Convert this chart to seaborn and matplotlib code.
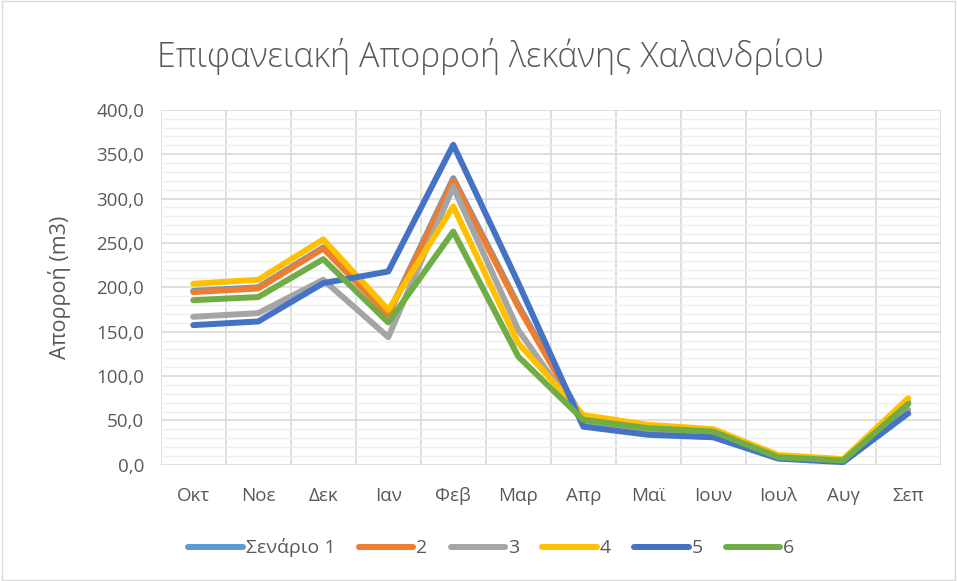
import pandas as pd
import matplotlib.pyplot as plt
import seaborn as sns
from matplotlib.ticker import MultipleLocator, FixedLocator, FuncFormatter
from matplotlib.patches import Rectangle

months = ['Οκτ', 'Νοε', 'Δεκ', 'Ιαν', 'Φεβ', 'Μαρ', 'Απρ', 'Μαϊ', 'Ιουν', 'Ιουλ', 'Αυγ', 'Σεπ']
scenarios = ['Σενάριο 1', '2', '3', '4', '5', '6']

s1 = [196.0, 200.0, 245.0, 170.0, 323.0, 180.0, 51.0, 42.0, 38.0, 10.0, 5.0, 71.0]
s2 = [194.6, 198.7, 243.7, 169.0, 321.0, 178.0, 50.0, 41.0, 37.5, 9.5, 5.0, 70.0]
s3 = [166.8, 170.9, 208.5, 143.9, 313.0, 152.0, 48.0, 38.0, 35.0, 8.5, 4.5, 62.0]
s4 = [204.0, 208.5, 254.0, 174.6, 291.0, 137.0, 56.0, 45.0, 40.2, 11.0, 6.4, 75.0]
s5 = [157.4, 161.5, 204.7, 217.8, 360.6, 205.0, 43.0, 33.8, 31.0, 7.0, 3.0, 58.0]
s6 = [185.5, 189.0, 231.7, 160.4, 262.9, 122.0, 50.7, 41.3, 37.5, 8.6, 4.8, 68.7]

colors = ['#5B9BD5', '#ED7D31', '#A5A5A5', '#FFC000', '#4472C4', '#70AD47']

rows = []
for name, vals in zip(scenarios, [s1, s2, s3, s4, s5, s6]):
    for m, v in zip(months, vals):
        rows.append({'month': m, 'scenario': name, 'value': v})
df = pd.DataFrame(rows)

sns.set_style("white")
plt.rcParams['font.family'] = ['Open Sans', 'DejaVu Sans']

fig = plt.figure(figsize=(9.57, 5.81), dpi=100)
ax = fig.add_axes([0.168, 0.200, 0.815, 0.611])

sns.lineplot(data=df, x='month', y='value', hue='scenario', hue_order=scenarios,
             palette=colors, linewidth=4.3, sort=False, ax=ax, solid_capstyle='round')

ax.set_xlim(-0.5, 11.5)
ax.set_ylim(0, 400)
ax.yaxis.set_major_locator(MultipleLocator(50))
ax.yaxis.set_minor_locator(MultipleLocator(10))
ax.xaxis.set_minor_locator(FixedLocator([i - 0.5 for i in range(13)]))
ax.yaxis.set_major_formatter(FuncFormatter(lambda v, p: f"{v:.1f}".replace('.', ',')))

ax.xaxis.grid(True, which='minor', color='#d9d9d9', linewidth=1.2)
ax.xaxis.grid(False, which='major')
ax.yaxis.grid(True, which='major', color='#d9d9d9', linewidth=1.2)
ax.yaxis.grid(True, which='minor', color='#efefef', linewidth=1.0)
ax.set_axisbelow(True)
for sp in ax.spines.values():
    sp.set_visible(False)

ax.tick_params(axis='both', which='both', length=0, labelsize=13.5, colors='#595959')
ax.tick_params(axis='y', pad=12)
ax.tick_params(axis='x', pad=16)
ax.set_xlabel('')
ax.set_ylabel('Απορροή (m3)', fontsize=15.5, color='#595959')
ax.yaxis.set_label_coords(-0.115, 0.5)

fig.text(0.513, 0.902, 'Επιφανειακή Απορροή λεκάνης Χαλανδρίου', fontsize=24.5,
         color='#595959', fontweight='light', ha='center', va='center')

leg = ax.legend(loc='center', bbox_to_anchor=(0.424, -0.234), ncol=6, frameon=False,
                fontsize=14, handlelength=2.8, handletextpad=0.15, columnspacing=1.2)
for t in leg.get_texts():
    t.set_color('#595959')
for h in leg.get_lines():
    h.set_linewidth(4.3)

fig.patches.append(Rectangle((0.002, 0.002), 0.996, 0.996, transform=fig.transFigure,
                             fill=False, edgecolor='#d9d9d9', linewidth=1))

fig.savefig('out.png', dpi=100, facecolor='white')
